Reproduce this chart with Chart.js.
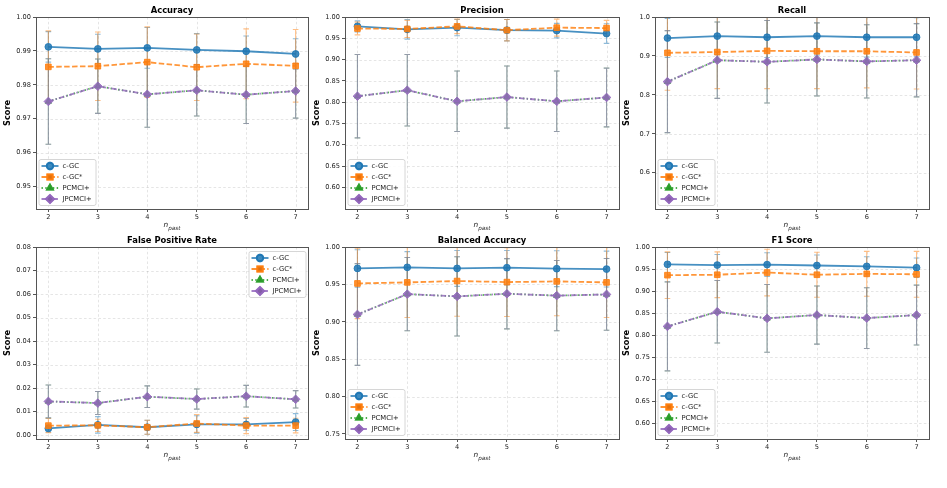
<!DOCTYPE html>
<html><head><meta charset="utf-8">
<script src="https://cdn.jsdelivr.net/npm/chart.js@4.4.0/dist/chart.umd.min.js"></script>
<style>
html,body{margin:0;padding:0;background:#fff}
body{width:947px;height:488px;position:relative;overflow:hidden}
canvas{position:absolute}
</style></head><body>
<canvas id="c0"></canvas><canvas id="c1"></canvas><canvas id="c2"></canvas>
<canvas id="c3"></canvas><canvas id="c4"></canvas><canvas id="c5"></canvas>
<script>
// ---- data ----
const nPast = [2, 3, 4, 5, 6, 7];
const seriesNames = ['c-GC', 'c-GC*', 'PCMCI+', 'JPCMCI+'];
const panelTitles = ['Accuracy', 'Precision', 'Recall', 'False Positive Rate', 'Balanced Accuracy', 'F1 Score'];

const accuracyTicks = [0.95, 0.96, 0.97, 0.98, 0.99, 1.00];
const accuracy_cgc = [0.9912, 0.9906, 0.9909, 0.9903, 0.9899, 0.9891];
const accuracy_cgc_err = [0.0045, 0.0043, 0.0060, 0.0048, 0.0045, 0.0045];
const accuracy_cgcStar = [0.9853, 0.9855, 0.9867, 0.9852, 0.9862, 0.9856];
const accuracy_cgcStar_err = [0.0106, 0.0101, 0.0104, 0.0098, 0.0103, 0.0107];
const accuracy_pcmci = [0.9751, 0.9796, 0.9772, 0.9784, 0.9771, 0.9782];
const accuracy_pcmci_err = [0.0126, 0.0080, 0.0097, 0.0076, 0.0085, 0.0080];
const accuracy_jpcmci = [0.9751, 0.9796, 0.9772, 0.9784, 0.9771, 0.9782];
const accuracy_jpcmci_err = [0.0126, 0.0080, 0.0097, 0.0076, 0.0085, 0.0080];

const precisionTicks = [0.60, 0.65, 0.70, 0.75, 0.80, 0.85, 0.90, 0.95, 1.00];
const precision_cgc = [0.978, 0.971, 0.975, 0.969, 0.968, 0.961];
const precision_cgc_err = [0.013, 0.023, 0.019, 0.025, 0.017, 0.023];
const precision_cgcStar = [0.973, 0.972, 0.978, 0.969, 0.975, 0.974];
const precision_cgcStar_err = [0.015, 0.020, 0.017, 0.025, 0.020, 0.018];
const precision_pcmci = [0.814, 0.828, 0.802, 0.812, 0.802, 0.811];
const precision_pcmci_err = [0.098, 0.084, 0.071, 0.073, 0.071, 0.069];
const precision_jpcmci = [0.814, 0.828, 0.802, 0.812, 0.802, 0.811];
const precision_jpcmci_err = [0.098, 0.084, 0.071, 0.073, 0.071, 0.069];

const recallTicks = [0.6, 0.7, 0.8, 0.9, 1.0];
const recall_cgc = [0.946, 0.951, 0.948, 0.951, 0.948, 0.948];
const recall_cgc_err = [0.050, 0.048, 0.052, 0.049, 0.051, 0.050];
const recall_cgcStar = [0.908, 0.910, 0.913, 0.912, 0.912, 0.909];
const recall_cgcStar_err = [0.096, 0.094, 0.097, 0.096, 0.094, 0.094];
const recall_pcmci = [0.834, 0.889, 0.885, 0.891, 0.886, 0.889];
const recall_pcmci_err = [0.131, 0.098, 0.106, 0.094, 0.094, 0.094];
const recall_jpcmci = [0.834, 0.889, 0.885, 0.891, 0.886, 0.889];
const recall_jpcmci_err = [0.131, 0.098, 0.106, 0.094, 0.094, 0.094];

const fprTicks = [0.00, 0.01, 0.02, 0.03, 0.04, 0.05, 0.06, 0.07, 0.08];
const fpr_cgc = [0.0028, 0.0043, 0.0033, 0.0045, 0.0045, 0.0055];
const fpr_cgc_err = [0.0015, 0.0035, 0.0030, 0.0037, 0.0025, 0.0036];
const fpr_cgcStar = [0.0040, 0.0041, 0.0033, 0.0049, 0.0040, 0.0040];
const fpr_cgcStar_err = [0.0030, 0.0026, 0.0030, 0.0038, 0.0034, 0.0031];
const fpr_pcmci = [0.0143, 0.0136, 0.0163, 0.0153, 0.0165, 0.0152];
const fpr_pcmci_err = [0.0070, 0.0049, 0.0046, 0.0043, 0.0046, 0.0037];
const fpr_jpcmci = [0.0143, 0.0136, 0.0163, 0.0153, 0.0165, 0.0152];
const fpr_jpcmci_err = [0.0070, 0.0049, 0.0046, 0.0043, 0.0046, 0.0037];

const balancedTicks = [0.75, 0.80, 0.85, 0.90, 0.95, 1.00];
const balanced_cgc = [0.9714, 0.9728, 0.9714, 0.9723, 0.9710, 0.9705];
const balanced_cgc_err = [0.025, 0.021, 0.024, 0.023, 0.024, 0.024];
const balanced_cgcStar = [0.9513, 0.9527, 0.9545, 0.9531, 0.9540, 0.9527];
const balanced_cgcStar_err = [0.047, 0.047, 0.047, 0.046, 0.046, 0.047];
const balanced_pcmci = [0.9098, 0.9370, 0.9340, 0.9375, 0.9350, 0.9366];
const balanced_pcmci_err = [0.068, 0.049, 0.053, 0.047, 0.047, 0.048];
const balanced_jpcmci = [0.9098, 0.9370, 0.9340, 0.9375, 0.9350, 0.9366];
const balanced_jpcmci_err = [0.068, 0.049, 0.053, 0.047, 0.047, 0.048];

const f1Ticks = [0.60, 0.65, 0.70, 0.75, 0.80, 0.85, 0.90, 0.95, 1.00];
const f1_cgc = [0.9606, 0.9590, 0.9600, 0.9580, 0.9560, 0.9530];
const f1_cgc_err = [0.027, 0.024, 0.027, 0.024, 0.022, 0.022];
const f1_cgcStar = [0.936, 0.937, 0.942, 0.937, 0.939, 0.938];
const f1_cgcStar_err = [0.053, 0.052, 0.053, 0.051, 0.051, 0.052];
const f1_pcmci = [0.8197, 0.8530, 0.8380, 0.8455, 0.8386, 0.8455];
const f1_pcmci_err = [0.101, 0.071, 0.077, 0.066, 0.069, 0.068];
const f1_jpcmci = [0.8197, 0.8530, 0.8380, 0.8455, 0.8386, 0.8455];
const f1_jpcmci_err = [0.101, 0.071, 0.077, 0.066, 0.069, 0.068];

// ---- styles ----
const styles = [
  {rgb: '31,119,180', dash: [], pt: 'circle', r: 3.4},
  {rgb: '255,127,14', dash: [5.5, 2.4], pt: 'rect', r: 4.0},
  {rgb: '44,160,44', dash: [1.4, 2.4], pt: 'triangle', r: 3.6},
  {rgb: '148,103,189', dash: [5.5, 2, 1.4, 2], pt: 'rectRot', r: 4.3}
];
const FONT = 'DejaVu Sans';

const panels = [
  {L: 36, R: 308, T: 17, B: 209, min: 0.9434, max: 1.0, ticks: accuracyTicks, dec: 2, leg: 'll',
   vals: [accuracy_cgc, accuracy_cgcStar, accuracy_pcmci, accuracy_jpcmci],
   errs: [accuracy_cgc_err, accuracy_cgcStar_err, accuracy_pcmci_err, accuracy_jpcmci_err]},
  {L: 345, R: 619, T: 17, B: 209, min: 0.549, max: 1.0, ticks: precisionTicks, dec: 2, leg: 'll',
   vals: [precision_cgc, precision_cgcStar, precision_pcmci, precision_jpcmci],
   errs: [precision_cgc_err, precision_cgcStar_err, precision_pcmci_err, precision_jpcmci_err]},
  {L: 655, R: 929, T: 17, B: 209, min: 0.507, max: 1.0, ticks: recallTicks, dec: 1, leg: 'll',
   vals: [recall_cgc, recall_cgcStar, recall_pcmci, recall_jpcmci],
   errs: [recall_cgc_err, recall_cgcStar_err, recall_pcmci_err, recall_jpcmci_err]},
  {L: 36, R: 308, T: 247, B: 439, min: -0.0017, max: 0.08, ticks: fprTicks, dec: 2, leg: 'ur',
   vals: [fpr_cgc, fpr_cgcStar, fpr_pcmci, fpr_jpcmci],
   errs: [fpr_cgc_err, fpr_cgcStar_err, fpr_pcmci_err, fpr_jpcmci_err]},
  {L: 345, R: 619, T: 247, B: 439, min: 0.7433, max: 1.0, ticks: balancedTicks, dec: 2, leg: 'll',
   vals: [balanced_cgc, balanced_cgcStar, balanced_pcmci, balanced_jpcmci],
   errs: [balanced_cgc_err, balanced_cgcStar_err, balanced_pcmci_err, balanced_jpcmci_err]},
  {L: 655, R: 929, T: 247, B: 439, min: 0.564, max: 1.0, ticks: f1Ticks, dec: 2, leg: 'll',
   vals: [f1_cgc, f1_cgcStar, f1_pcmci, f1_jpcmci],
   errs: [f1_cgc_err, f1_cgcStar_err, f1_pcmci_err, f1_jpcmci_err]}
];

const YW = 36, PADT = 17, XH = 30, PADR = 6;

const decorPlugin = {
  id: 'decor',
  beforeDatasetsDraw(chart, args, o) {
    const {ctx, chartArea: a, scales: {x, y}} = chart;
    ctx.save();
    // dashed grid
    ctx.strokeStyle = 'rgba(0,0,0,0.13)';
    ctx.lineWidth = 0.8;
    ctx.setLineDash([2.6, 2.2]);
    ctx.beginPath();
    nPast.forEach(v => { const px = Math.round(x.getPixelForValue(v)) + 0.5; ctx.moveTo(px, a.top); ctx.lineTo(px, a.bottom); });
    o.ticks.forEach(v => { const py = Math.round(y.getPixelForValue(v)) + 0.5; if (py > a.top + 1 && py < a.bottom - 1) { ctx.moveTo(a.left, py); ctx.lineTo(a.right, py); } });
    ctx.stroke();
    ctx.setLineDash([]);
    // error bars
    ctx.beginPath(); ctx.rect(a.left, a.top, a.right - a.left, a.bottom - a.top); ctx.clip();
    chart.data.datasets.forEach((ds, di) => {
      const st = styles[di];
      ctx.strokeStyle = 'rgba(' + st.rgb + ',0.5)';
      ctx.lineWidth = 1.1;
      ds.err.forEach((e, i) => {
        const px = x.getPixelForValue(ds.data[i].x);
        const v = ds.data[i].y;
        const yl = y.getPixelForValue(v - e), yh = y.getPixelForValue(v + e);
        ctx.beginPath();
        ctx.moveTo(px, yl); ctx.lineTo(px, yh);
        ctx.moveTo(px - 2.8, yl); ctx.lineTo(px + 2.8, yl);
        ctx.moveTo(px - 2.8, yh); ctx.lineTo(px + 2.8, yh);
        ctx.stroke();
      });
    });
    ctx.restore();
  },
  afterDraw(chart, args, o) {
    const {ctx, chartArea: a} = chart;
    ctx.save();
    // frame
    ctx.strokeStyle = '#555';
    ctx.lineWidth = 1;
    ctx.strokeRect(Math.round(a.left) + 0.5, Math.round(a.top) + 0.5, Math.round(a.right - a.left), Math.round(a.bottom - a.top));
    // title
    ctx.fillStyle = '#000';
    ctx.font = 'bold 8.4px "' + FONT + '"';
    ctx.textAlign = 'center';
    ctx.textBaseline = 'alphabetic';
    ctx.fillText(o.title, (a.left + a.right) / 2, a.top - 4);
    // x label n_past
    const cx = (a.left + a.right) / 2;
    ctx.font = 'italic 7.4px "' + FONT + '"';
    const w1 = ctx.measureText('n').width;
    ctx.font = 'italic 5.6px "' + FONT + '"';
    const w2 = ctx.measureText('past').width;
    const sx = cx - (w1 + w2) / 2;
    ctx.textAlign = 'left';
    ctx.fillStyle = '#222';
    ctx.font = 'italic 7.4px "' + FONT + '"';
    ctx.fillText('n', sx, a.bottom + 18);
    ctx.font = 'italic 5.6px "' + FONT + '"';
    ctx.fillText('past', sx + w1, a.bottom + 20.5);
    // legend
    const bw = 57, bh = 46;
    let bx, by;
    if (o.leg === 'll') { bx = a.left + 2.5; by = a.bottom - 4 - bh; }
    else { bx = a.right - 2.5 - bw; by = a.top + 4; }
    ctx.fillStyle = 'rgba(255,255,255,0.85)';
    ctx.strokeStyle = '#cccccc';
    ctx.lineWidth = 0.8;
    ctx.beginPath();
    if (ctx.roundRect) ctx.roundRect(bx + 0.5, by + 0.5, bw, bh, 2); else ctx.rect(bx + 0.5, by + 0.5, bw, bh);
    ctx.fill(); ctx.stroke();
    seriesNames.forEach((name, i) => {
      const st = styles[i];
      const ry = by + 7 + i * 11;
      ctx.strokeStyle = 'rgba(' + st.rgb + ',0.85)';
      ctx.lineWidth = 1.8;
      ctx.setLineDash(st.dash);
      ctx.beginPath(); ctx.moveTo(bx + 3, ry); ctx.lineTo(bx + 20, ry); ctx.stroke();
      ctx.setLineDash([]);
      Chart.helpers.drawPoint(ctx, {pointStyle: st.pt, radius: st.r * 0.95, borderWidth: 1}, bx + 11.5, ry);
      ctx.fillStyle = 'rgba(' + st.rgb + ',0.85)';
      ctx.strokeStyle = 'rgba(' + st.rgb + ',0.85)';
      ctx.fill(); ctx.stroke();
      ctx.fillStyle = '#222';
      ctx.font = '6.8px "' + FONT + '"';
      ctx.textAlign = 'left';
      ctx.textBaseline = 'middle';
      ctx.fillText(name, bx + 24, ry + 0.5);
    });
    ctx.restore();
  }
};

panels.forEach((p, k) => {
  const cv = document.getElementById('c' + k);
  const left = p.L - YW, top = p.T - PADT;
  const w = p.R - p.L + YW + PADR, h = PADT + (p.B - p.T) + XH;
  cv.width = w; cv.height = h;
  cv.style.left = left + 'px'; cv.style.top = top + 'px';
  cv.style.width = w + 'px'; cv.style.height = h + 'px';
  const datasets = p.vals.map((v, i) => {
    const st = styles[i];
    return {
      label: seriesNames[i],
      order: 3 - i,
      data: nPast.map((x, j) => ({x: x, y: v[j]})),
      err: p.errs[i],
      borderColor: 'rgba(' + st.rgb + ',0.82)',
      backgroundColor: 'rgba(' + st.rgb + ',0.82)',
      pointBackgroundColor: 'rgba(' + st.rgb + ',0.85)',
      pointBorderColor: 'rgba(' + st.rgb + ',0.85)',
      borderWidth: 1.8,
      borderDash: st.dash,
      pointStyle: st.pt,
      pointRadius: st.r,
      pointBorderWidth: 1,
      tension: 0,
      fill: false
    };
  });
  new Chart(cv, {
    type: 'line',
    data: {datasets},
    options: {
      responsive: false,
      animation: false,
      devicePixelRatio: 1,
      layout: {padding: {top: PADT, right: PADR, left: 0, bottom: 0}},
      plugins: {
        legend: {display: false},
        tooltip: {enabled: false},
        decor: {title: panelTitles[k], ticks: p.ticks, leg: p.leg}
      },
      scales: {
        x: {
          type: 'linear', min: 1.75, max: 7.25,
          afterBuildTicks: s => { s.ticks = nPast.map(v => ({value: v})); },
          afterFit: s => { s.height = XH; },
          ticks: {font: {family: FONT, size: 6.6}, color: '#222', padding: 1, maxRotation: 0,
                  callback: v => String(v)},
          grid: {drawOnChartArea: false, tickLength: 3, tickColor: '#555', color: '#555'},
          border: {display: false}
        },
        y: {
          type: 'linear', min: p.min, max: p.max,
          afterBuildTicks: s => { s.ticks = p.ticks.map(v => ({value: v})); },
          afterFit: s => { s.width = YW; },
          ticks: {font: {family: FONT, size: 6.6}, color: '#222', padding: 2,
                  callback: v => Number(v).toFixed(p.dec)},
          grid: {drawOnChartArea: false, tickLength: 3, tickColor: '#555', color: '#555'},
          border: {display: false},
          title: {display: true, text: 'Score', font: {family: FONT, size: 8.2, weight: 'bold'}, color: '#000',
                  padding: {top: 3, bottom: 1}}
        }
      }
    },
    plugins: [decorPlugin]
  });
});
</script>
</body></html>
